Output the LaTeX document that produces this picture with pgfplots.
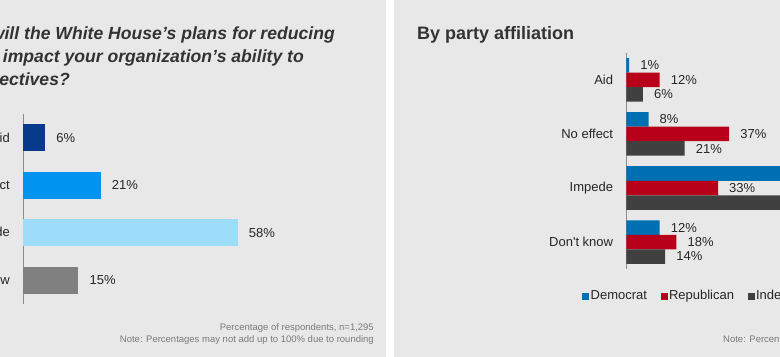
\documentclass[border=0pt]{standalone}
\usepackage{pgfplots}
\pgfplotsset{compat=1.18}
\usepackage{pgfplotstable}
\usepackage{fontspec}
\setmainfont{Liberation Sans}
\newfontfamily\plainfont{Liberation Sans}
\definecolor{bg}{HTML}{E8E8E8}
\definecolor{titlecol}{HTML}{333333}
\definecolor{txt}{HTML}{262626}
\definecolor{notecol}{HTML}{7A7A7A}
\definecolor{axcol}{HTML}{8C8C8C}
\definecolor{aidc}{HTML}{083A8C}
\definecolor{noeffc}{HTML}{0094F0}
\definecolor{impc}{HTML}{9EDDFA}
\definecolor{dkc}{HTML}{808080}
\definecolor{dem}{HTML}{0070B2}
\definecolor{rep}{HTML}{B8001A}
\definecolor{ind}{HTML}{404040}

\pgfplotstableread{
cat dem rep ind
0 1 12 6
1 8 37 21
2 79 33 59
3 12 18 14
}\righttab

\newcommand{\lblfont}{\fontsize{13bp}{15bp}\selectfont}
\pgfplotsset{
  common/.style={
    xbar, scale only axis, y dir=reverse,
    xmin=0, xmax=100, ymin=-0.5, ymax=3.5,
    axis x line=none, axis y line*=left,
    y axis line style={draw=axcol, line width=0.9bp, -},
    ytick={0,1,2,3}, yticklabels={Aid,No effect,Impede,Don{\plainfont '}t know},
    major tick length=0pt,
    yticklabel style={font=\lblfont, text=txt, inner sep=0pt, anchor=east, xshift=-13bp},
    /pgf/number format/assume math mode=true,
    nodes near coords={\pgfmathprintnumber{\pgfplotspointmeta}\%},
    nodes near coords align=horizontal,
    every node near coord/.append style={font=\lblfont, text=txt, anchor=west, inner sep=0pt, xshift=11bp},
    point meta=x,
    clip=false,
  }
}

\begin{document}
\begin{tikzpicture}
\useasboundingbox (0,0) rectangle (780bp,357bp);
\clip (0,0) rectangle (780bp,357bp);
\fill[white] (0,0) rectangle (780bp,357bp);
\fill[bg] (0,0) rectangle (386bp,357bp);
\fill[bg] (394bp,0) rectangle (780bp,357bp);

% titles
\begin{scope}[every node/.style={inner sep=0pt, text=titlecol, font=\fontsize{17.6bp}{20bp}\selectfont\bfseries\itshape}]
\node[anchor=base east] at (335bp,317bp) {How will the White House’s plans for reducing};
\node[anchor=base east] at (304bp,294bp) {impact your organization’s ability to};
\node[anchor=base east] at (70bp,271bp) {objectives?};
\end{scope}
\node[anchor=base west, inner sep=0pt, text=titlecol, font=\fontsize{18bp}{20bp}\selectfont\bfseries] at (417bp,317bp) {By party affiliation};

% notes
\begin{scope}[every node/.style={inner sep=0pt, text=notecol, font=\fontsize{9.5bp}{11bp}\selectfont}]
\node[anchor=base east] at (374bp,27bp) {Percentage of respondents, n=1,295};
\node[anchor=base east] at (374bp,15bp) {Note: Percentages may not add up to 100\% due to rounding};
\node[anchor=base west] at (723bp,15bp) {Note: Percentages may not add up to 100\% due to rounding};
\end{scope}

% left panel
\begin{axis}[common, at={(23bp,243bp)}, anchor=north west, width=370bp, height=190bp, bar width=27bp]
\addplot[fill=aidc, draw=none, bar shift=0pt] coordinates {(6,0)};
\addplot[fill=noeffc, draw=none, bar shift=0pt] coordinates {(21,1)};
\addplot[fill=impc, draw=none, bar shift=0pt] coordinates {(58,2)};
\addplot[fill=dkc, draw=none, bar shift=0pt] coordinates {(15,3)};
\end{axis}

% right panel
\begin{axis}[common, at={(626.3bp,304bp)}, anchor=north west, width=278bp, height=216bp, bar width=14.5bp,
  legend columns=3,
  legend style={at={(axis description cs:-0.1594,-0.125)}, anchor=west, draw=none, fill=none,
    font=\lblfont, text=txt, inner sep=0pt,
    nodes={inner sep=1.5bp},
    /tikz/every even column/.append style={column sep=12bp}},
  legend cell align=left,
  legend image code/.code={\fill[#1] (0bp,-3.5bp) rectangle (7bp,3.5bp);}]
\addplot[fill=dem, draw=none, bar shift=14.5bp] table[x=dem, y=cat] {\righttab};
\addplot[fill=rep, draw=none, bar shift=0bp] table[x=rep, y=cat] {\righttab};
\addplot[fill=ind, draw=none, bar shift=-14.5bp] table[x=ind, y=cat] {\righttab};
\legend{Democrat, Republican, Independent}
\end{axis}
\end{tikzpicture}
\end{document}
